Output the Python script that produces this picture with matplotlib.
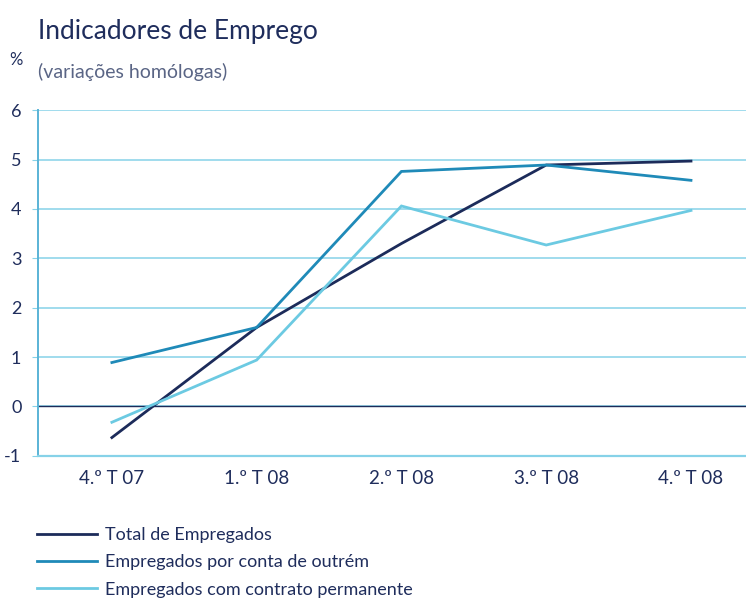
import matplotlib

matplotlib.use("Agg")
import matplotlib.pyplot as plt
import numpy as np

quarters = ["4.º T 07", "1.º T 08", "2.º T 08", "3.º T 08", "4.º T 08"]
total_empregados = [-0.63, 1.60, 3.30, 4.89, 4.97]
conta_outrem = [0.89, 1.60, 4.76, 4.89, 4.58]
contrato_permanente = [-0.32, 0.94, 4.06, 3.27, 3.97]
series_labels = [
    "Total de Empregados",
    "Empregados por conta de outrém",
    "Empregados com contrato permanente",
]
y_ticks = [-1, 0, 1, 2, 3, 4, 5, 6]

NAVY = "#1c2b5a"
MID = "#1f8ab8"
LIGHT = "#6ccae2"
GRID = "#86d2e8"
TEXT = "#1f2d5c"

plt.rcParams["font.family"] = ["Lato", "DejaVu Sans"]

fig = plt.figure(figsize=(7.46, 5.99), dpi=100)
ax = fig.add_axes([0.051, 0.239, 0.949, 0.577])

x = np.arange(len(quarters))
colors = [NAVY, MID, LIGHT]
for vals, lab, col in zip(
    [total_empregados, conta_outrem, contrato_permanente], series_labels, colors
):
    ax.plot(x, vals, color=col, lw=2.0, label=lab, zorder=3,
            solid_joinstyle="miter")

ax.set_xlim(-0.51, 4.38)
ax.set_ylim(-1, 6)
ax.set_yticks(y_ticks)
ax.set_yticklabels([str(t) for t in y_ticks])
ax.set_xticks(x)
ax.set_xticklabels(quarters)
ax.yaxis.grid(True, color=GRID, lw=1.1)
ax.axhline(0, color=NAVY, lw=1.0, zorder=2)
for s in ["top", "right"]:
    ax.spines[s].set_visible(False)
ax.spines["left"].set_color("#5ab3d6")
ax.spines["left"].set_linewidth(1.4)
ax.spines["bottom"].set_color(GRID)
ax.spines["bottom"].set_linewidth(1.6)
ax.tick_params(axis="y", length=4, color=GRID, labelsize=13, labelcolor=TEXT, pad=8)
ax.tick_params(axis="x", length=0, labelsize=13.5, labelcolor=TEXT, pad=10)

fig.text(0.051, 0.935, "Indicadores de Emprego", fontsize=19, color=TEXT,
         va="baseline", ha="left")
fig.text(0.051, 0.88, "(variações homólogas)", fontsize=14, color="#5a6585",
         va="center", ha="left")
fig.text(0.013, 0.9, "%", fontsize=12, color=TEXT, va="center", ha="left")

fig.legend(loc="upper left", bbox_to_anchor=(0.0496, 0.12), frameon=False,
           fontsize=13, handlelength=3.3, handletextpad=0.45,
           labelspacing=0.62, borderaxespad=0, borderpad=0, labelcolor=TEXT)

fig.savefig("out.png", dpi=100)
